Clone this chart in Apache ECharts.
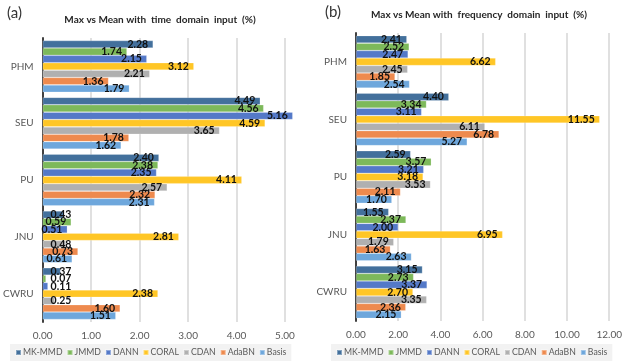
<!DOCTYPE html>
<html>
<head>
<meta charset="utf-8">
<script src="https://cdn.jsdelivr.net/npm/echarts@6/dist/echarts.min.js"></script>
<style>
    html,body{margin:0;padding:0;background:#fff;}
    #main{width:625px;height:362px;}
</style>
</head>
<body>
<div id="main"></div>
<script>
let datasets=["PHM","SEU","PU","JNU","CWRU"];
let methods=["MK-MMD","JMMD","DANN","CORAL","CDAN","AdaBN","Basis"];
let colors=["#43709c","#7db95a","#5479c8","#ffc626","#b0b0b0","#ee8a4e","#6ea7dc"];
let xTicks=[[0,5,1],[0,12,2]];

// (a) time domain input
let timeMKMMD=[2.28,4.49,2.40,0.43,0.37];
let timeJMMD=[1.74,4.56,2.38,0.59,0.07];
let timeDANN=[2.15,5.16,2.35,0.51,0.11];
let timeCORAL=[3.12,4.59,4.11,2.81,2.38];
let timeCDAN=[2.21,3.65,2.57,0.48,0.25];
let timeAdaBN=[1.36,1.78,2.32,0.73,1.60];
let timeBasis=[1.79,1.62,2.31,0.61,1.51];

// (b) frequency domain input
let freqMKMMD=[2.41,4.40,2.59,1.55,3.15];
let freqJMMD=[2.52,3.34,3.57,2.37,2.73];
let freqDANN=[2.47,3.11,3.21,2.00,3.37];
let freqCORAL=[6.62,11.55,3.18,6.95,2.70];
let freqCDAN=[2.45,6.11,3.53,1.79,3.35];
let freqAdaBN=[1.85,6.78,2.11,1.63,2.36];
let freqBasis=[2.54,5.27,1.70,2.63,2.15];

let timeData=[timeMKMMD,timeJMMD,timeDANN,timeCORAL,timeCDAN,timeAdaBN,timeBasis];
let freqData=[freqMKMMD,freqJMMD,freqDANN,freqCORAL,freqCDAN,freqAdaBN,freqBasis];

let font="Lato, 'Open Sans', sans-serif";
let grey="#595959";

// short bars: label starts at the axis instead of ending at the bar end
function barData(arr,small){
    let out=[];
    for(let v of arr){
        if(v<small){
            out.push({value:v,label:{position:"insideLeft",distance:8}});
        }else{
            out.push(v);
        }
    }
    return out;
}

function makeSeries(idx,data,small){
    let list=[];
    for(let i=0;i<methods.length;i++){
        list.push({
            name:methods[i],
            type:"bar",
            xAxisIndex:idx,
            yAxisIndex:idx,
            data:barData(data[i],small),
            color:colors[i],
            barGap:"0%",
            barCategoryGap:"9%",
            clip:false,
            itemStyle:{borderColor:"rgba(255,255,255,0.35)",borderWidth:0.6},
            label:{show:true,position:"insideRight",distance:5,formatter:p=>p.value.toFixed(2),
                color:"#111",fontWeight:"bold",fontSize:10.5,fontFamily:font}
        });
    }
    return list;
}
let series=makeSeries(0,timeData,0.5).concat(makeSeries(1,freqData,0.9));

function xAxis(idx){
    return {
        type:"value",
        gridIndex:idx,
        min:xTicks[idx][0],
        max:xTicks[idx][1],
        interval:xTicks[idx][2],
        axisLine:{show:false},
        axisTick:{show:false},
        axisLabel:{color:grey,fontSize:10,fontFamily:font,margin:9,formatter:v=>v.toFixed(2)},
        splitLine:{lineStyle:{color:"#d6d6d6",width:1.5}}
    };
}
function yAxis(idx){
    return {
        type:"category",
        gridIndex:idx,
        data:datasets,
        inverse:true,
        axisLine:{lineStyle:{color:"#404040",width:2}},
        axisTick:{show:false},
        axisLabel:{color:grey,fontSize:10,fontFamily:font,margin:9}
    };
}
function legend(left){
    return {
        data:methods,
        left:left,
        top:344,
        width:400,
        icon:"rect",
        itemWidth:5,
        itemHeight:5,
        itemGap:4,
        padding:[4,5,4,5],
        backgroundColor:"#f2f2f2",
        textStyle:{color:grey,fontSize:8.7,fontFamily:font,padding:[0,0,0,-3]}
    };
}

var myChart=echarts.init(document.getElementById("main"),null,{renderer:"canvas"});
let option={
    animation:false,
    title:[
        {text:"(a)",left:2,top:1,textStyle:{fontSize:15,fontWeight:"normal",color:"#333",fontFamily:font}},
        {text:"(b)",left:320,top:0,textStyle:{fontSize:15,fontWeight:"normal",color:"#333",fontFamily:font}},
        {text:"Max vs Mean with  time  domain  input  (%)",left:155,textAlign:"center",top:10,
            textStyle:{fontSize:10,fontWeight:"bold",color:"#262626",fontFamily:font}},
        {text:"Max vs Mean with  frequency  domain  input  (%)",left:474,textAlign:"center",top:5,
            textStyle:{fontSize:10,fontWeight:"bold",color:"#262626",fontFamily:font}}
    ],
    legend:[legend(10),legend(331)],
    grid:[
        {left:36,top:38,width:249,height:284},
        {left:356,top:33,width:254,height:288}
    ],
    xAxis:[xAxis(0),xAxis(1)],
    yAxis:[yAxis(0),yAxis(1)],
    series:series
};
myChart.setOption(option);
</script>
</body>
</html>
